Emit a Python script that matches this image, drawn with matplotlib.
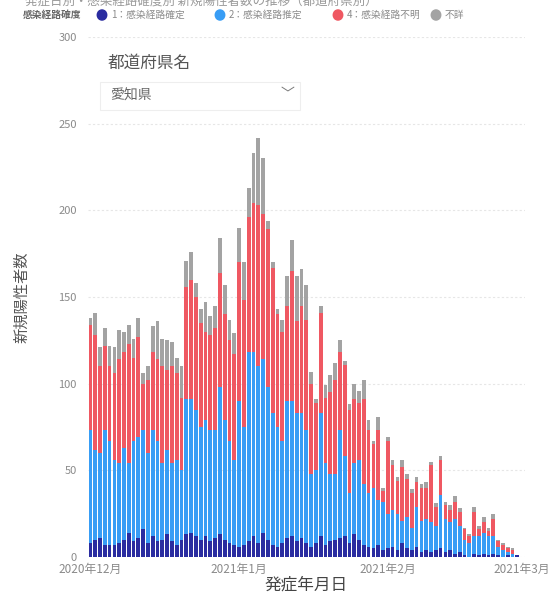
import matplotlib
matplotlib.use('Agg')
import matplotlib.pyplot as plt
from matplotlib.patches import FancyBboxPatch
import pandas as pd
import numpy as np

plt.rcParams['font.family'] = ['Noto Sans CJK JP', 'DejaVu Sans']

# 発症日 (2020-12-01 .. 2021-02-28)
dates = pd.date_range('2020-12-01', '2021-02-28', freq='D')

# 1：感染経路確定
kakutei = [8, 10, 11, 7, 7, 7, 8, 10, 14, 9, 11, 16, 8, 12, 9, 10, 13, 9, 7, 10, 13, 14, 12, 10, 12, 9, 11, 13, 10, 8, 7,
           6, 7, 9, 12, 8, 14, 10, 7, 6, 8, 11, 12, 9, 11, 8, 6, 8, 12, 7, 9, 10, 11, 12, 8, 13, 10, 7, 6, 5, 7, 4,
           5, 6, 4, 8, 5, 4, 6, 3, 4, 3, 4, 5, 3, 4, 2, 3, 1, 0, 2, 1, 2, 1, 2, 1, 0, 1, 0, 1]
# 2：感染経路推定
suitei = [65, 52, 49, 66, 60, 49, 46, 53, 40, 58, 58, 57, 52, 61, 58, 44, 49, 45, 49, 40, 78, 77, 73, 65, 67, 64, 62, 85, 69, 59, 49,
          84, 68, 109, 106, 102, 100, 88, 76, 69, 59, 79, 78, 74, 72, 65, 42, 42, 71, 47, 39, 38, 62, 46, 29, 41, 46, 35, 31, 35, 26, 28,
          20, 21, 21, 13, 18, 13, 23, 18, 18, 17, 14, 31, 19, 16, 20, 15, 9, 8, 10, 11, 12, 11, 10, 5, 4, 2, 2, 0]
# 4：感染経路不明
fumei = [61, 66, 50, 49, 43, 50, 60, 55, 69, 48, 58, 27, 42, 45, 47, 56, 46, 56, 50, 42, 65, 69, 65, 60, 51, 55, 59, 66, 61, 58, 61,
         80, 73, 78, 86, 93, 84, 91, 84, 65, 63, 55, 75, 53, 62, 64, 52, 39, 58, 38, 47, 54, 45, 53, 48, 37, 33, 49, 36, 25, 40, 6,
         42, 26, 19, 31, 22, 20, 14, 19, 18, 33, 11, 20, 8, 7, 10, 8, 6, 4, 14, 4, 6, 3, 10, 3, 3, 2, 2, 0]
# 不詳
fusho = [4, 13, 11, 10, 12, 15, 17, 12, 11, 11, 11, 6, 8, 15, 22, 16, 17, 14, 9, 18, 15, 16, 8, 8, 17, 11, 13, 20, 17, 12, 12,
         20, 22, 17, 29, 39, 32, 5, 3, 3, 7, 17, 18, 26, 21, 20, 7, 2, 4, 7, 10, 10, 7, 2, 3, 9, 7, 11, 6, 2, 8, 2,
         2, 3, 2, 4, 3, 2, 3, 2, 3, 2, 2, 2, 2, 3, 3, 2, 1, 1, 3, 2, 3, 2, 3, 1, 1, 1, 1, 0]

series_names = ['1：感染経路確定', '2：感染経路推定', '4：感染経路不明', '不詳']
series_colors = ['#2a2ca0', '#389df5', '#ef5862', '#a3a3a3']

month_ticks = pd.to_datetime(['2020-12-01', '2021-01-01', '2021-02-01', '2021-03-01'])
month_labels = ['2020年12月', '2021年1月', '2021年2月', '2021年3月']

fig = plt.figure(figsize=(5.57, 5.94), dpi=100)
ax = fig.add_axes([88 / 557, 37 / 594, 437 / 557, 520 / 594])

bottom = np.zeros(len(dates))
for vals, col in zip([kakutei, suitei, fumei, fusho], series_colors):
    ax.bar(dates, vals, bottom=bottom, width=0.78, color=col, linewidth=0, zorder=3)
    bottom = bottom + np.array(vals)

ax.set_ylim(0, 300)
ax.set_xlim(dates[0] - pd.Timedelta(hours=12), dates[0] + pd.Timedelta(days=90.6))
ax.set_yticks([0, 50, 100, 150, 200, 250, 300])
ax.set_xticks(month_ticks)
ax.set_xticklabels(month_labels)
ax.tick_params(axis='both', length=0, colors='#8a8a8a', labelsize=8.5)
ax.tick_params(axis='y', pad=8, labelsize=8)
ax.tick_params(axis='x', pad=4.5)
for s in ax.spines.values():
    s.set_visible(False)
ax.grid(axis='y', color='#e6e6e6', linewidth=0.8, linestyle=(0, (2, 2)), zorder=0)
ax.set_axisbelow(True)
ax.set_ylabel('新規陽性者数', fontsize=11, color='#555555', labelpad=20)
ax.set_xlabel('発症年月日', fontsize=12, color='#444444', labelpad=0)

# 凡例 (上部)
fig.text(23 / 557, 1 - 15 / 594, '感染経路確度', fontsize=7, color='#666666', va='center', fontweight='bold')
leg_x = [102, 220, 338, 436]
for x, name, col in zip(leg_x, series_names, series_colors):
    fig.patches.append(plt.Circle((x / 557, 1 - 15 / 594), 0.0085, color=col,
                                  transform=fig.transFigure, figure=fig))
    fig.text((x + 9) / 557, 1 - 15 / 594, name, fontsize=7, color='#8a8a8a', va='center')

# 上端で切れたタイトル
fig.text(25 / 557, 0.997, '発症日別・感染経路確度別 新規陽性者数の推移（都道府県別）', fontsize=9,
         color='#9a9a9a', va='center')

# スライサー
fig.text(108 / 557, 1 - 63 / 594, '都道府県名', fontsize=12, color='#555555', va='center')
box = FancyBboxPatch((100 / 557, 1 - 110 / 594), 200 / 557, 28 / 594,
                     boxstyle='square,pad=0', transform=fig.transFigure,
                     facecolor='white', edgecolor='#eeeeee', linewidth=0.8, zorder=5)
fig.patches.append(box)
fig.text(110 / 557, 1 - 96 / 594, '愛知県', fontsize=10, color='#666666', va='center', zorder=6)
fig.text(287 / 557, 1 - 95 / 594, '﹀', fontsize=10, color='#777777', va='center', ha='center', zorder=6)

fig.savefig('out.png', dpi=100)
